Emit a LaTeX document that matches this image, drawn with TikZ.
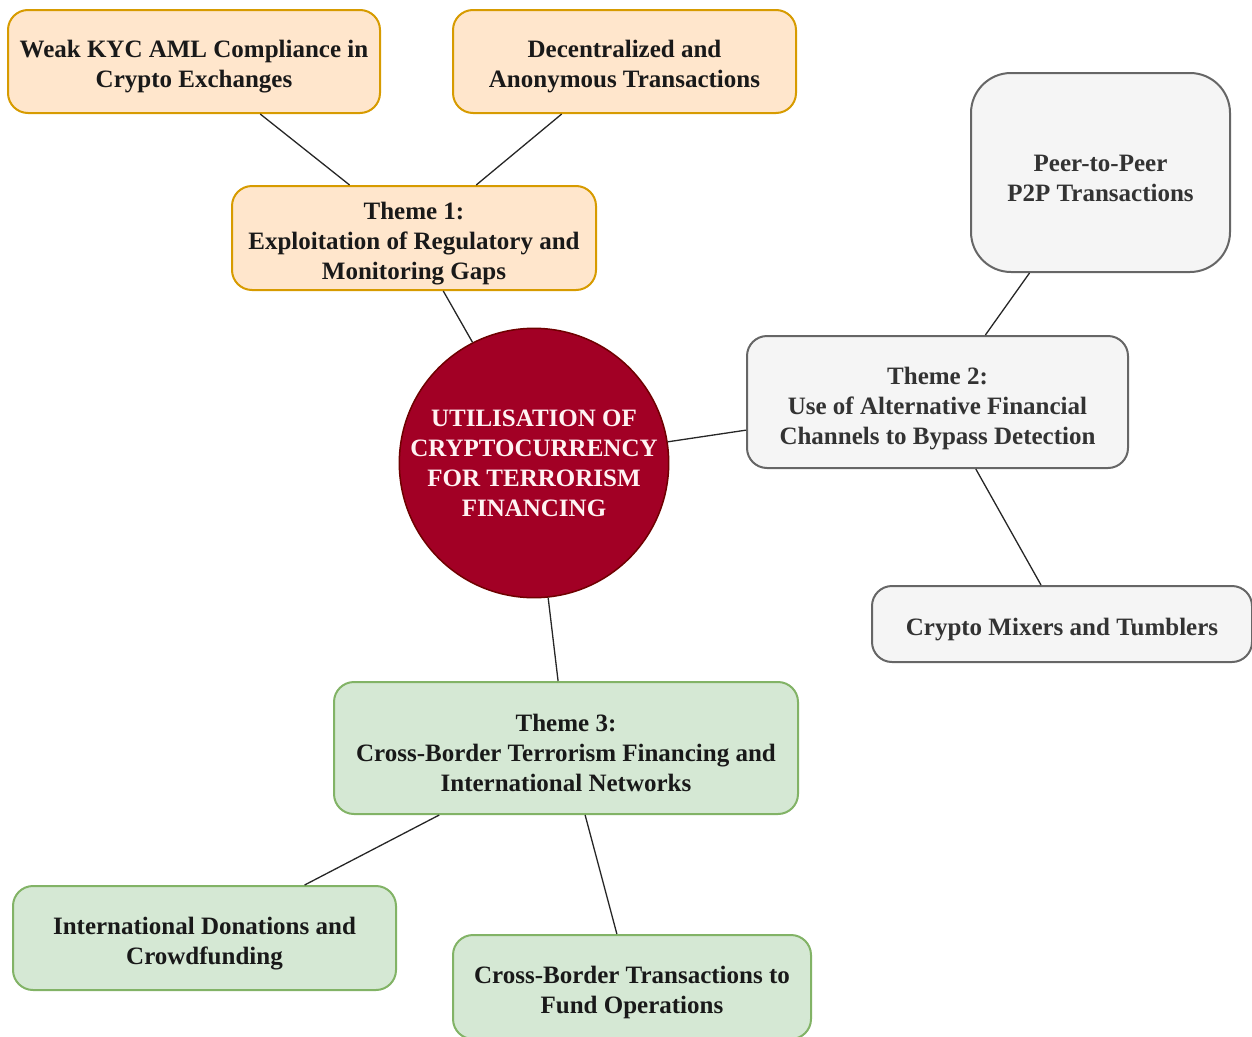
\documentclass[tikz,border=0pt]{standalone}
\usepackage{fontspec}
\setmainfont{Liberation Serif}
\usetikzlibrary{positioning, calc}

\definecolor{orfill}{HTML}{FFE6CC}
\definecolor{ordraw}{HTML}{D79B00}
\definecolor{grfill}{HTML}{F5F5F5}
\definecolor{grdraw}{HTML}{666666}
\definecolor{gntfill}{HTML}{D5E8D4}
\definecolor{gntdraw}{HTML}{82B366}
\definecolor{hubfill}{HTML}{A20025}
\definecolor{hubdraw}{HTML}{6F0000}
\definecolor{greytext}{HTML}{333333}

% pushes the text block a little lower in its box
\newcommand{\toprow}{\rule{0pt}{28pt}}

\begin{document}
\begin{tikzpicture}[
  x=1pt, y=-1pt,
  font=\fontsize{25}{30}\selectfont\bfseries,
  box/.style={draw, line width=2pt, rounded corners=20pt, align=center,
              inner sep=0pt, text=black!90},
  orangebox/.style={box, fill=orfill, draw=ordraw},
  greybox/.style={box, fill=grfill, draw=grdraw, text=greytext},
  greenbox/.style={box, fill=gntfill, draw=gntdraw},
  hub/.style={circle, draw=hubdraw, line width=1.5pt, fill=hubfill,
              minimum size=268pt, inner sep=0pt, align=center, text=white!95!red},
  link/.style={draw=black!85, line width=1.3pt},
]
\useasboundingbox (0,0) rectangle (1252,1036);

% Centre
\node[hub] (hub) at (534,463) {UTILISATION OF\\CRYPTOCURRENCY\\FOR TERRORISM\\FINANCING};

% Theme 1
\node[orangebox, minimum width=364pt, minimum height=104pt] (theme1) at (414,238)
  {\toprow Theme 1:\\Exploitation of Regulatory and\\Monitoring Gaps};
\node[orangebox, minimum width=372pt, minimum height=103pt] (weak) at (194,61.5)
  {\toprow Weak KYC AML Compliance in\\Crypto Exchanges};
\node[orangebox, minimum width=343pt, minimum height=103pt] (decent) at (624.5,61.5)
  {\toprow Decentralized and\\Anonymous Transactions};

% Theme 2
\node[greybox, minimum width=381pt, minimum height=132pt] (theme2) at (937.5,402)
  {\rule{0pt}{30pt}Theme 2:\\Use of Alternative Financial\\Channels to Bypass Detection};
\node[greybox, rounded corners=40pt, minimum width=259pt, minimum height=199pt] (peer) at (1100.5,172.5)
  {\toprow Peer-to-Peer\\P2P Transactions};
\node[greybox, minimum width=380pt, minimum height=76pt] (mixers) at (1062,624)
  {\toprow Crypto Mixers and Tumblers};

% Theme 3
\node[greenbox, minimum width=464pt, minimum height=132pt] (theme3) at (566,748)
  {\toprow Theme 3:\\Cross-Border Terrorism Financing and\\International Networks};
\node[greenbox, minimum width=383pt, minimum height=104pt] (intl) at (204.5,938)
  {\toprow International Donations and\\Crowdfunding};
\node[greenbox, minimum width=358pt, minimum height=104pt] (crossb) at (632,987)
  {\toprow Cross-Border Transactions to\\Fund Operations};

% Links
\draw[link] ($(weak.south west)!0.677!(weak.south east)$) -- ($(theme1.north west)!0.324!(theme1.north east)$);
\draw[link] ($(decent.south west)!0.318!(decent.south east)$) -- ($(theme1.north west)!0.670!(theme1.north east)$);
\draw[link] ($(theme1.south west)!0.58!(theme1.south east)$) -- (hub.117);
\draw[link] (hub.9) -- ($(theme2.north west)!0.71!(theme2.south west)$);
\draw[link] ($(theme2.north west)!0.625!(theme2.north east)$) -- ($(peer.south west)!0.228!(peer.south east)$);
\draw[link] ($(theme2.south west)!0.60!(theme2.south east)$) -- ($(mixers.north west)!0.445!(mixers.north east)$);
\draw[link] (hub.-84) -- ($(theme3.north west)!0.483!(theme3.north east)$);
\draw[link] ($(theme3.south west)!0.228!(theme3.south east)$) -- ($(intl.north west)!0.76!(intl.north east)$);
\draw[link] ($(theme3.south west)!0.541!(theme3.south east)$) -- ($(crossb.north west)!0.458!(crossb.north east)$);

\end{tikzpicture}
\end{document}
